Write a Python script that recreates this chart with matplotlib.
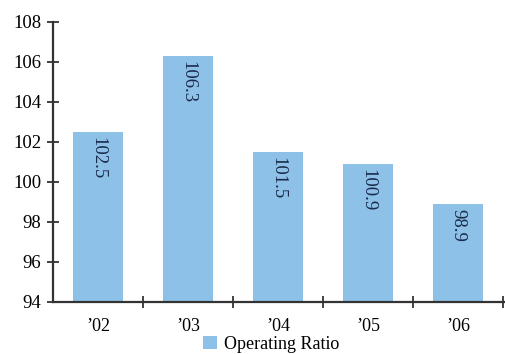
import matplotlib.pyplot as plt
import numpy as np

# operating ratio by year
years = ["\u201902", "\u201903", "\u201904", "\u201905", "\u201906"]
ratio = [102.5, 106.3, 101.5, 100.9, 98.9]
y_ticks = [94, 96, 98, 100, 102, 104, 106, 108]

plt.rcParams['font.family'] = ['Liberation Serif', 'DejaVu Serif']

fig = plt.figure(figsize=(5.06, 3.54), dpi=100)
ax = fig.add_axes([53 / 506, 1 - 301.7 / 354, 453 / 506, 280 / 354])

x = np.arange(len(years))
bar_color = '#8ec1e8'
bars = ax.bar(x, ratio, width=0.555, color=bar_color, zorder=2, label='Operating Ratio')

for xi, v in zip(x, ratio):
    ax.annotate(f"{v:.1f}", (xi, v), xytext=(0, -3.5), textcoords='offset points',
                rotation=-90, ha='center', va='top', fontsize=13.5, color='#1a2a4a')

ax.set_ylim(94, 108)
ax.set_xlim(-0.5, len(years) - 0.5 + 3 / 90)
ax.set_yticks(y_ticks)
ax.set_yticklabels([str(t) for t in y_ticks], fontsize=13.5)

# ticks on the category boundaries, labels at bar centres
ax.set_xticks(x + 0.5)
ax.set_xticklabels([])
ax.set_xticks(x, minor=True)
ax.set_xticklabels(years, minor=True, fontsize=13)
ax.tick_params(axis='x', which='minor', length=0, pad=12)
ax.tick_params(axis='x', which='major', direction='inout', length=9, width=1.3, color='#333333')
ax.tick_params(axis='y', direction='inout', length=9, width=1.3, color='#333333', pad=4)

for s in ['top', 'right']:
    ax.spines[s].set_visible(False)
for s in ['left', 'bottom']:
    ax.spines[s].set_linewidth(1.6)
    ax.spines[s].set_color('#333333')

fig.legend(handles=[bars], labels=['Operating Ratio'], loc='center',
           bbox_to_anchor=(271 / 506, 1 - 344.5 / 354), frameon=False, fontsize=13,
           handlelength=0.75, handleheight=0.75, handletextpad=0.4,
           borderpad=0, borderaxespad=0)

fig.savefig('out.png', dpi=100)
